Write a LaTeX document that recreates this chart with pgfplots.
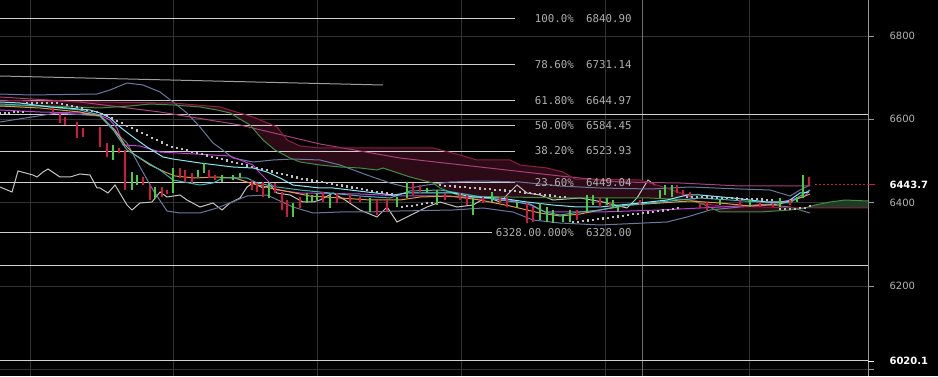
\documentclass[border=0pt]{standalone}
\usepackage{pgfplots}
\pgfplotsset{compat=1.18}
\usepackage{fontspec}
\newfontfamily\axfont{DejaVu Sans}
\newfontfamily\monofont{DejaVu Sans Mono}
\definecolor{gridgray}{HTML}{333333}
\definecolor{lightgrid}{HTML}{707070}
\definecolor{axisgray}{HTML}{9A9A9A}
\definecolor{labelgray}{HTML}{B4B4B4}
\definecolor{fibline}{HTML}{D0D0D0}
\definecolor{fibtext}{HTML}{B0B0B0}
\definecolor{trendgray}{HTML}{9E9E9E}
\definecolor{lagwhite}{HTML}{C4C4C4}
\definecolor{slate}{HTML}{6878A0}
\definecolor{cyanl}{HTML}{80E8F4}
\definecolor{tealc}{HTML}{3CB4BC}
\definecolor{orangec}{HTML}{E39A3C}
\definecolor{magentac}{HTML}{C23CD8}
\definecolor{spanA}{HTML}{3E8E3E}
\definecolor{spanB}{HTML}{8E1E44}
\definecolor{pinkma}{HTML}{A8407A}
\definecolor{cloudred}{HTML}{2C0A16}
\definecolor{cloudgreen}{HTML}{1E3C24}
\definecolor{candlered}{HTML}{D2183C}
\definecolor{candlegreen}{HTML}{44CC44}
\definecolor{dotc}{HTML}{BEBEBE}
\definecolor{pricered}{HTML}{C8203C}
\begin{document}
\begin{tikzpicture}
\fill[black] (0,0) rectangle (938pt,376pt);
\begin{axis}[
  at={(0,0)}, anchor=south west,
  scale only axis, width=868pt, height=376pt,
  xmin=0, xmax=868, ymin=5984, ymax=6886.4,
  clip=false,
  axis x line*=bottom, axis y line*=right,
  x axis line style={draw=none},
  y axis line style={draw=axisgray, line width=0.8pt},
  xtick={30,173,317,461,605,749}, xticklabels={}, xtick style={draw=none},
  xmajorgrids, ymajorgrids,
  grid style={gridgray, line width=0.8pt},
  ytick={6000,6200,6400,6600,6800},
  yticklabels={,6200,6400,6600,6800},
  ytick style={axisgray, line width=0.8pt},
  tick align=outside, major tick length=6pt,
  yticklabel style={font=\axfont\fontsize{10}{12}\selectfont, text=labelgray, anchor=west, xshift=12pt},
  extra x ticks={642}, extra x tick labels={},
  extra x tick style={grid=major, major grid style={lightgrid, line width=0.8pt}, xtick style={draw=none}},
  extra y ticks={6443.7,6020.1}, extra y tick labels={6443.7,6020.1},
  extra y tick style={grid=none, ytick style={white, line width=0.8pt},
     yticklabel style={font=\axfont\bfseries\fontsize{10}{12}\selectfont, text=white}},
  unbounded coords=jump,
]
% Ichimoku cloud fills
\addplot[draw=none, fill=cloudred] coordinates {
(0,6646.4) (30,6644.0) (100,6641.6) (173,6639.2) (220,6629.6) (253,6605.6) (277,6581.6) (287,6550.4) (300,6536.0) (320,6531.2) (433,6531.2) (460,6514.4) (477,6502.4) (510,6502.4) (520,6490.4) (547,6483.2) (563,6473.6) (575,6456.8) (640,6454.4) (660,6440.0) (687,6418.4) (700,6399.2) (720,6392.0) (805,6387.2)
(790,6382.4) (760,6377.6) (720,6377.6) (705,6394.4) (690,6406.4) (650,6411.2) (560,6411.2) (460,6416.0) (440,6435.2) (433,6447.2) (410,6461.6) (383,6483.2) (377,6478.4) (360,6483.2) (340,6485.6) (320,6490.4) (300,6497.6) (290,6507.2) (275,6526.4) (263,6550.4) (250,6586.4) (230,6615.2) (217,6622.4) (200,6629.6) (173,6634.4) (150,6636.8) (130,6632.0) (100,6627.2) (50,6632.0) (0,6632.0)};
\addplot[draw=none, fill=cloudgreen] coordinates {
(805,6387.2) (815,6394.4) (830,6401.6) (845,6406.4) (868,6404.0) (868,6387.2)};
% Fibonacci levels
\addplot[fibline, line width=1pt] coordinates {(0,6840.90) (515,6840.90)};
\addplot[fibline, line width=1pt] coordinates {(0,6731.14) (515,6731.14)};
\addplot[fibline, line width=1pt] coordinates {(0,6644.97) (515,6644.97)};
\addplot[fibline, line width=1pt] coordinates {(0,6584.45) (515,6584.45)};
\addplot[fibline, line width=1pt] coordinates {(0,6523.93) (515,6523.93)};
\addplot[fibline, line width=1pt] coordinates {(0,6449.04) (515,6449.04)};
\addplot[fibline, line width=1pt] coordinates {(0,6328.00) (492,6328.00)};
% full-width horizontal lines
\addplot[fibline, line width=1pt] coordinates {(0,6612) (868,6612)};
\addplot[fibline, line width=1pt] coordinates {(0,6250) (868,6250)};
\addplot[fibline, line width=1pt] coordinates {(0,6020.1) (868,6020.1)};
% trend line
\addplot[trendgray, line width=1pt] coordinates {(0,6704) (383,6682.4)};
% lagging line
\addplot[lagwhite, line width=1pt] coordinates {
(0,6437.6) (12,6425.6) (18,6476.0) (33,6466.4) (37,6461.6) (43,6473.6) (48,6480.8) (60,6461.6) (70,6461.6) (80,6468.8) (90,6466.4) (97,6435.2) (100,6435.2) (108,6423.2) (115,6442.4) (127,6394.4) (132,6382.4) (140,6399.2) (152,6401.6) (160,6425.6) (167,6413.6) (180,6418.4) (187,6406.4) (200,6389.6) (213,6399.2) (222,6382.4) (230,6399.2) (240,6411.2) (247,6437.6) (253,6447.2) (263,6435.2) (270,6442.4) (277,6423.2) (290,6418.4) (303,6401.6) (313,6401.6) (320,6406.4) (333,6423.2) (345,6406.4) (360,6382.4) (377,6365.6) (387,6389.6) (397,6353.6) (407,6365.6) (417,6377.6) (427,6389.6) (440,6401.6) (457,6389.6) (473,6394.4) (487,6413.6) (500,6401.6) (517,6442.4) (527,6423.2) (540,6418.4) (553,6406.4) (580,6411.2) (603,6401.6) (627,6387.2) (637,6411.2) (648,6454.4) (655,6442.4)};
% Bollinger bands
\addplot[slate, line width=1pt] coordinates {
(0,6660.8) (30,6658.4) (97,6660.8) (110,6670.4) (127,6687.2) (143,6682.4) (160,6665.6) (173,6641.6) (187,6615.2) (200,6581.6) (213,6543.2) (220,6531.2) (233,6507.2) (253,6497.6) (273,6502.4) (293,6504.8) (320,6502.4) (340,6490.4) (367,6466.4) (390,6447.2) (410,6435.2) (427,6442.4) (450,6449.6) (480,6452.0) (520,6449.6) (560,6440.0) (600,6435.2) (650,6432.8) (690,6437.6) (740,6432.8) (770,6430.4) (790,6416.0) (800,6430.4) (810,6442.4)};
\addplot[slate, line width=1pt] coordinates {
(0,6593.6) (57,6615.2) (100,6608.0) (110,6581.6) (127,6543.2) (140,6485.6) (153,6430.4) (167,6380.0) (180,6375.2) (200,6375.2) (217,6387.2) (247,6416.0) (267,6418.4) (293,6389.6) (313,6375.2) (340,6377.6) (367,6377.6) (400,6380.0) (453,6382.4) (483,6387.2) (513,6377.6) (533,6358.4) (560,6351.2) (600,6346.4) (667,6353.6) (687,6365.6) (710,6382.4) (740,6389.6) (770,6394.4) (790,6389.6) (800,6382.4) (810,6375.2)};
% slow MA
\addplot[pinkma, line width=1pt] coordinates {
(0,6653.6) (80,6641.6) (160,6617.6) (240,6586.4) (320,6540.8) (400,6507.2) (480,6485.6) (560,6464.0) (620,6449.6) (680,6447.2) (740,6440.0) (810,6440.0)};
% span lines
\addplot[spanB, line width=1pt] coordinates {
(0,6646.4) (30,6644.0) (100,6641.6) (173,6639.2) (220,6629.6) (253,6605.6) (277,6581.6) (287,6550.4) (300,6536.0) (320,6531.2) (433,6531.2) (460,6514.4) (477,6502.4) (510,6502.4) (520,6490.4) (547,6483.2) (563,6473.6) (575,6456.8) (640,6454.4) (660,6440.0) (687,6418.4) (700,6399.2) (720,6392.0) (805,6387.2) (868,6387.2)};
\addplot[spanA, line width=1pt] coordinates {
(0,6632.0) (50,6632.0) (100,6627.2) (130,6632.0) (150,6636.8) (173,6634.4) (200,6629.6) (217,6622.4) (230,6615.2) (250,6586.4) (263,6550.4) (275,6526.4) (290,6507.2) (300,6497.6) (320,6490.4) (340,6485.6) (360,6483.2) (377,6478.4) (383,6483.2) (410,6461.6) (433,6447.2) (440,6435.2) (460,6416.0) (560,6411.2) (650,6411.2) (690,6406.4) (705,6394.4) (720,6377.6) (760,6377.6) (790,6382.4) (805,6387.2) (815,6394.4) (830,6401.6) (845,6406.4) (868,6404.0)};
% moving averages
\addplot[magentac, line width=1pt] coordinates {
(0,6622.4) (40,6617.6) (80,6615.2) (100,6610.4) (110,6598.4) (117,6579.2) (123,6538.4) (140,6536.0) (160,6521.6) (230,6512.0) (253,6490.4) (260,6471.2) (277,6430.4) (300,6423.2) (360,6420.8) (400,6416.0) (440,6416.0) (480,6411.2) (510,6406.4) (530,6394.4) (545,6377.6) (600,6377.6) (660,6382.4) (700,6387.2) (740,6392.0) (770,6396.8) (790,6406.4) (805,6416.0) (810,6430.4)};
\addplot[orangec, line width=1pt] coordinates {
(0,6632.0) (40,6627.2) (80,6617.6) (100,6608.0) (115,6574.4) (125,6538.4) (135,6514.4) (150,6490.4) (165,6473.6) (175,6464.0) (195,6459.2) (215,6461.6) (235,6459.2) (250,6447.2) (270,6435.2) (290,6425.6) (310,6416.0) (340,6411.2) (370,6406.4) (400,6406.4) (420,6413.6) (450,6416.0) (480,6406.4) (510,6392.0) (540,6375.2) (560,6368.0) (580,6372.8) (600,6382.4) (630,6394.4) (660,6399.2) (690,6404.0) (720,6399.2) (750,6392.0) (780,6396.8) (800,6411.2) (810,6420.8)};
\addplot[tealc, line width=1pt] coordinates {
(0,6636.8) (40,6632.0) (80,6622.4) (100,6610.4) (110,6586.4) (120,6550.4) (127,6526.4) (140,6507.2) (160,6478.4) (173,6454.4) (200,6442.4) (213,6447.2) (223,6459.2) (247,6459.2) (257,6447.2) (277,6437.6) (300,6430.4) (330,6423.2) (360,6416.0) (390,6411.2) (410,6428.0) (440,6430.4) (470,6418.4) (500,6406.4) (530,6396.8) (545,6377.6) (560,6370.4) (580,6377.6) (600,6382.4) (620,6392.0) (650,6399.2) (680,6406.4) (700,6411.2) (730,6406.4) (760,6401.6) (790,6399.2) (800,6416.0) (810,6430.4)};
\addplot[cyanl, line width=1pt] coordinates {
(0,6641.6) (20,6639.2) (50,6629.6) (67,6627.2) (90,6622.4) (100,6615.2) (110,6603.2) (120,6581.6) (133,6557.6) (147,6533.6) (163,6509.6) (173,6504.8) (200,6495.2) (233,6485.6) (253,6483.2) (267,6473.6) (280,6459.2) (293,6442.4) (320,6435.2) (333,6435.2) (367,6425.6) (393,6418.4) (407,6423.2) (433,6423.2) (453,6423.2) (473,6413.6) (500,6411.2) (527,6401.6) (553,6394.4) (577,6389.6) (600,6389.6) (620,6394.4) (640,6399.2) (667,6406.4) (687,6418.4) (700,6418.4) (733,6411.2) (767,6401.6) (787,6401.6) (800,6423.2) (809,6425.6)};
% candles
\addplot[candlered, line width=1.1pt] coordinates {
(53,6615.2) (53,6627.2) (53,nan)
(60,6591.2) (60,6615.2) (60,nan)
(65,6586.4) (65,6605.6) (65,nan)
(77,6555.2) (77,6593.6) (77,nan)
(83,6557.6) (83,6579.2) (83,nan)
(100,6533.6) (100,6581.6) (100,nan)
(107,6509.6) (107,6543.2) (107,nan)
(119,6519.2) (119,6531.2) (119,nan)
(125,6430.4) (125,6526.4) (125,nan)
(143,6442.4) (143,6461.6) (143,nan)
(150,6406.4) (150,6442.4) (150,nan)
(162,6413.6) (162,6437.6) (162,nan)
(167,6420.8) (167,6430.4) (167,nan)
(180,6459.2) (180,6483.2) (180,nan)
(185,6449.6) (185,6478.4) (185,nan)
(192,6447.2) (192,6471.2) (192,nan)
(209,6459.2) (209,6478.4) (209,nan)
(215,6454.4) (215,6466.4) (215,nan)
(252,6430.4) (252,6454.4) (252,nan)
(257,6425.6) (257,6447.2) (257,nan)
(263,6413.6) (263,6449.6) (263,nan)
(275,6423.2) (275,6447.2) (275,nan)
(282,6382.4) (282,6425.6) (282,nan)
(287,6365.6) (287,6406.4) (287,nan)
(300,6387.2) (300,6413.6) (300,nan)
(323,6401.6) (323,6425.6) (323,nan)
(337,6399.2) (337,6423.2) (337,nan)
(350,6399.2) (350,6423.2) (350,nan)
(360,6401.6) (360,6413.6) (360,nan)
(377,6370.4) (377,6406.4) (377,nan)
(387,6377.6) (387,6406.4) (387,nan)
(413,6418.4) (413,6447.2) (413,nan)
(420,6423.2) (420,6442.4) (420,nan)
(445,6406.4) (445,6423.2) (445,nan)
(460,6406.4) (460,6423.2) (460,nan)
(467,6394.4) (467,6418.4) (467,nan)
(483,6399.2) (483,6413.6) (483,nan)
(500,6399.2) (500,6413.6) (500,nan)
(507,6389.6) (507,6413.6) (507,nan)
(527,6351.2) (527,6399.2) (527,nan)
(533,6353.6) (533,6389.6) (533,nan)
(577,6358.4) (577,6382.4) (577,nan)
(600,6389.6) (600,6411.2) (600,nan)
(610,6389.6) (610,6401.6) (610,nan)
(640,6394.4) (640,6406.4) (640,nan)
(677,6423.2) (677,6442.4) (677,nan)
(683,6418.4) (683,6430.4) (683,nan)
(690,6413.6) (690,6425.6) (690,nan)
(700,6387.2) (700,6399.2) (700,nan)
(707,6382.4) (707,6401.6) (707,nan)
(740,6392.0) (740,6406.4) (740,nan)
(760,6389.6) (760,6401.6) (760,nan)
(773,6389.6) (773,6399.2) (773,nan)
(790,6394.4) (790,6406.4) (790,nan)
(809,6442.4) (809,6461.6)};
\addplot[candlegreen, line width=1.1pt] coordinates {
(113,6502.4) (113,6538.4) (113,nan)
(132,6430.4) (132,6473.6) (132,nan)
(137,6442.4) (137,6466.4) (137,nan)
(155,6411.2) (155,6437.6) (155,nan)
(173,6423.2) (173,6483.2) (173,nan)
(198,6461.6) (198,6478.4) (198,nan)
(204,6471.2) (204,6495.2) (204,nan)
(222,6449.6) (222,6466.4) (222,nan)
(233,6454.4) (233,6466.4) (233,nan)
(240,6459.2) (240,6471.2) (240,nan)
(269,6411.2) (269,6447.2) (269,nan)
(293,6365.6) (293,6399.2) (293,nan)
(307,6399.2) (307,6423.2) (307,nan)
(312,6401.6) (312,6418.4) (312,nan)
(317,6406.4) (317,6423.2) (317,nan)
(330,6387.2) (330,6418.4) (330,nan)
(370,6377.6) (370,6411.2) (370,nan)
(397,6389.6) (397,6413.6) (397,nan)
(407,6411.2) (407,6449.6) (407,nan)
(427,6423.2) (427,6435.2) (427,nan)
(437,6394.4) (437,6430.4) (437,nan)
(473,6370.4) (473,6413.6) (473,nan)
(492,6401.6) (492,6425.6) (492,nan)
(517,6389.6) (517,6401.6) (517,nan)
(540,6358.4) (540,6399.2) (540,nan)
(547,6353.6) (547,6389.6) (547,nan)
(553,6351.2) (553,6382.4) (553,nan)
(563,6353.6) (563,6370.4) (563,nan)
(570,6353.6) (570,6382.4) (570,nan)
(587,6377.6) (587,6418.4) (587,nan)
(593,6394.4) (593,6418.4) (593,nan)
(607,6394.4) (607,6411.2) (607,nan)
(613,6389.6) (613,6406.4) (613,nan)
(618,6377.6) (618,6389.6) (618,nan)
(660,6411.2) (660,6430.4) (660,nan)
(665,6418.4) (665,6442.4) (665,nan)
(672,6413.6) (672,6442.4) (672,nan)
(720,6394.4) (720,6406.4) (720,nan)
(750,6389.6) (750,6406.4) (750,nan)
(780,6389.6) (780,6411.2) (780,nan)
(797,6401.6) (797,6413.6) (797,nan)
(803,6411.2) (803,6466.4)};
% parabolic SAR dots
\addplot[only marks, mark=square*, mark size=0.65pt, dotc] coordinates {
(0,6615.2) (4.5,6615.2) (9,6616.4) (13.5,6617.6) (18,6617.6) (22.5,6618.8)
(27,6639.2) (32,6639.2) (37,6639.2) (42,6639.2) (47,6639.2) (52,6639.2) (57,6639.2) (62,6638.0) (67,6635.1) (72,6632.2) (77,6629.6) (82,6626.7) (87,6623.8) (92,6620.9) (97,6618.1) (102,6614.0) (107,6608.2) (112,6602.7) (117,6597.0) (122,6591.2) (127,6585.4) (132,6579.7) (137,6573.9) (142,6568.2) (147,6562.4) (152,6556.6) (157,6550.9) (162,6545.1) (167,6539.4) (172,6534.8) (177,6531.7) (182,6528.8) (187,6525.7) (192,6522.8) (197,6519.7) (202,6516.8) (207,6513.7) (212,6510.8) (217,6507.7) (222,6504.8) (227,6501.7) (232,6498.8) (237,6495.9) (242,6493.0) (247,6490.2) (252,6487.0) (257,6484.2) (262,6481.3) (267,6478.4) (272,6475.5) (277,6472.6) (282,6469.8) (287,6466.9) (292,6463.8) (297,6460.9) (302,6458.2) (307,6456.3) (312,6454.2) (317,6452.0) (322,6449.8) (327,6447.9) (332,6445.8) (337,6443.6) (342,6441.7) (347,6439.5) (352,6437.4) (357,6435.2) (362,6433.3) (367,6431.1) (372,6429.0) (377,6427.0) (382,6424.9) (387,6422.7) (392,6420.6) (397,6418.6)
(402,6389.6) (407,6392.0) (412,6393.2) (417,6394.4) (422,6396.8) (427,6399.2) (432,6400.4)
(440,6442.4) (445,6441.4) (450,6440.5) (455,6439.5) (460,6438.6) (465,6437.6) (470,6436.6) (475,6435.7) (480,6434.7) (485,6433.8) (490,6432.8) (495,6431.8) (500,6430.9) (505,6429.9) (510,6429.0) (515,6428.0) (520,6426.6) (525,6425.1) (530,6423.7) (535,6422.2) (540,6420.8) (545,6419.4) (550,6417.9) (555,6416.5) (560,6415.0) (565,6413.6)
(573,6353.6) (578,6354.8) (583,6356.0) (588,6357.7) (593,6359.4) (598,6361.0) (603,6362.7) (608,6364.4) (613,6366.1) (618,6367.8) (623,6369.4) (628,6371.1) (633,6372.8) (638,6374.2) (643,6375.7) (648,6377.1) (653,6378.6) (658,6380.0) (663,6381.9) (668,6383.8) (673,6385.8) (678,6387.7)
(687,6413.6) (692,6413.6) (697,6413.6) (702,6413.6) (707,6413.6) (712,6413.1) (717,6412.6) (722,6412.2) (727,6411.7) (732,6411.2) (737,6410.7) (742,6410.2) (747,6409.8) (752,6409.3) (757,6408.8) (762,6408.1) (767,6407.4) (772,6406.4)
(780,6384.8) (785,6384.8) (790,6384.8) (795,6386.0) (800,6387.2) (805,6388.4) (810,6392.0)};
% current price line
\addplot[pricered, line width=1pt, dash pattern=on 2pt off 2pt] coordinates {(815,6443.7) (868,6443.7)};
\addplot[pricered, line width=1pt] coordinates {(868,6443.7) (875,6443.7)};
% fib labels
\begin{scope}[every node/.style={font=\monofont\fontsize{10.8}{12}\selectfont, text=fibtext, inner sep=0pt}]
\node[anchor=east] at (axis cs:574,6840.90) {100.0\%};
\node[anchor=west] at (axis cs:586,6840.90) {6840.90};
\node[anchor=east] at (axis cs:574,6731.14) {78.60\%};
\node[anchor=west] at (axis cs:586,6731.14) {6731.14};
\node[anchor=east] at (axis cs:574,6644.97) {61.80\%};
\node[anchor=west] at (axis cs:586,6644.97) {6644.97};
\node[anchor=east] at (axis cs:574,6584.45) {50.00\%};
\node[anchor=west] at (axis cs:586,6584.45) {6584.45};
\node[anchor=east] at (axis cs:574,6523.93) {38.20\%};
\node[anchor=west] at (axis cs:586,6523.93) {6523.93};
\node[anchor=east] at (axis cs:574,6449.04) {23.60\%};
\node[anchor=west] at (axis cs:586,6449.04) {6449.04};
\node[anchor=east] at (axis cs:574,6328.00) {6328.00.000\%};
\node[anchor=west] at (axis cs:586,6328.00) {6328.00};
\end{scope}
\end{axis}
\pgfresetboundingbox
\path[use as bounding box] (0,0) rectangle (938pt,376pt);
\end{tikzpicture}
\end{document}
